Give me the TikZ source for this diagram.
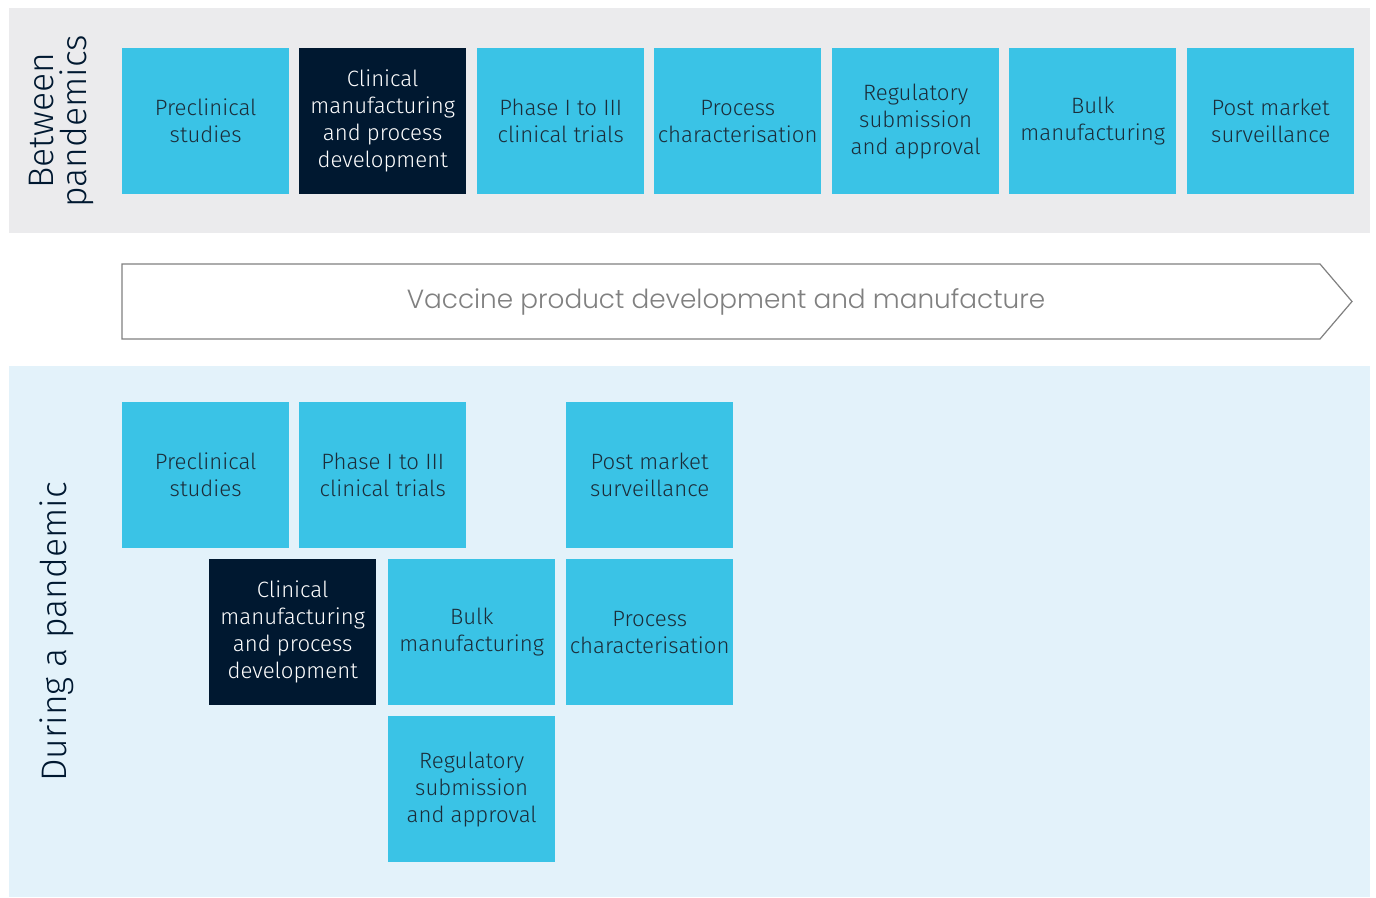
\documentclass[tikz,border=0pt]{standalone}
\usepackage{fontspec}
\setmainfont{Fira Sans Light}
\newfontfamily\geo{Poppins Light}
\usetikzlibrary{positioning}
\definecolor{bandgray}{HTML}{EBEBED}
\definecolor{bandblue}{HTML}{E3F2FA}
\definecolor{cyanbox}{HTML}{3AC3E6}
\definecolor{navybox}{HTML}{001830}
\definecolor{inktext}{HTML}{1B2D3A}
\definecolor{arrowgray}{HTML}{808080}
\tikzset{
  cbox/.style={fill=cyanbox, draw=none, minimum width=167pt, minimum height=146pt, inner sep=0pt, anchor=north west, align=center, text=inktext, font=\fontsize{22.2}{27}\selectfont},
  nbox/.style={cbox, fill=navybox, text=white},
  side/.style={rotate=90, align=center, text=navybox, font=\fontsize{35.5}{33}\selectfont},
}
\begin{document}
\begin{tikzpicture}[x=1pt,y=-1pt]
\useasboundingbox (0,0) rectangle (1376,897);
\fill[white] (0,0) rectangle (1376,897);
\fill[bandgray] (9,8) rectangle (1370,233);
\fill[bandblue] (9,366) rectangle (1370,897);
% top row
\node[cbox] (t1) at (122,48) {Preclinical\\studies};
\node[nbox] (t2) at (299,48) {Clinical\\manufacturing\\and process\\development};
\node[cbox] (t3) at (477,48) {Phase I to III\\clinical trials};
\node[cbox] (t4) at (654,48) {Process\\characterisation};
\node[cbox] (t5) at (832,48) {Regulatory\\submission\\and approval};
\node[cbox] (t6) at (1009,48) {Bulk\\manufacturing};
\node[cbox] (t7) at (1187,48) {Post market\\surveillance};
\node[side] (lb) at (61,121) {Between\\pandemics};
% arrow
\coordinate (a1) at (122,264);
\coordinate (a2) at (1320,264);
\coordinate (a3) at (1352,301.5);
\coordinate (a4) at (1320,339);
\coordinate (a5) at (122,339);
\draw[arrowgray, line width=1.2pt, fill=white] (a1) -- (a2) -- (a3) -- (a4) -- (a5) -- cycle;
\node[text=arrowgray, font=\geo\fontsize{26.3}{30}\selectfont] (al) at (726,302) {Vaccine product development and manufacture};
% bottom
\node[cbox] (b1) at (122,402) {Preclinical\\studies};
\node[cbox] (b2) at (299,402) {Phase I to III\\clinical trials};
\node[cbox] (b3) at (566,402) {Post market\\surveillance};
\node[nbox] (b4) at (209,559) {Clinical\\manufacturing\\and process\\development};
\node[cbox] (b5) at (388,559) {Bulk\\manufacturing};
\node[cbox] (b6) at (566,559) {Process\\characterisation};
\node[cbox] (b7) at (388,716) {Regulatory\\submission\\and approval};
\node[side] (lp) at (57,632) {During a pandemic};
\end{tikzpicture}
\end{document}
